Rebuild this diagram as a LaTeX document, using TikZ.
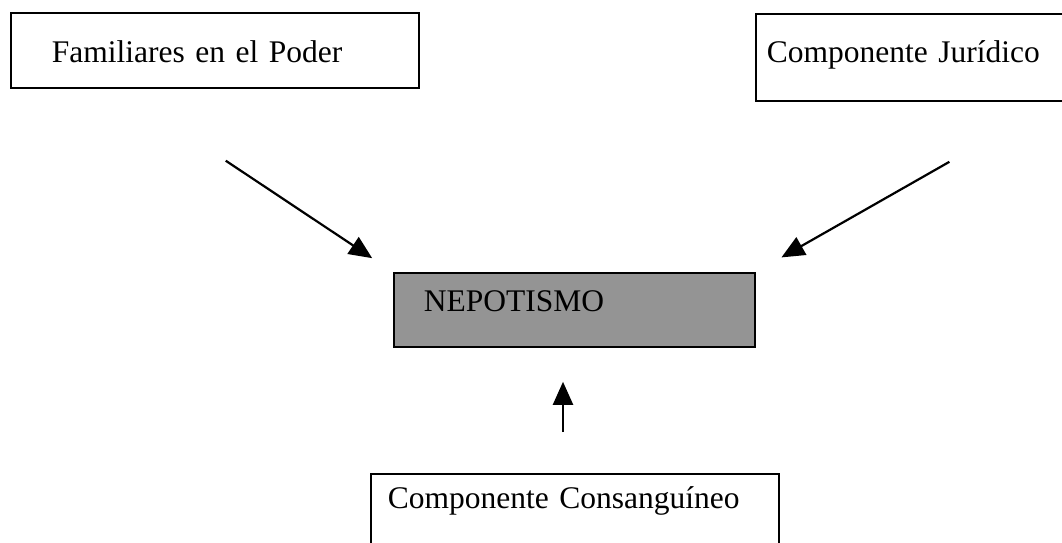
\documentclass[tikz,border=0pt]{standalone}
\usepackage{fontspec}
\setmainfont{Liberation Serif}
\usetikzlibrary{arrows.meta, positioning}
\tikzstyle{box}=[draw,line width=1.8pt,rectangle,anchor=north west,align=left,inner ysep=0pt]
\tikzstyle{every node}=[font=\fontsize{31.5}{36}\selectfont]
\definecolor{dither}{gray}{0.58}

\begin{document}
\begin{tikzpicture}[x=1pt, y=-1pt, >={Triangle[length=23pt,width=20pt]}, line width=2.2pt]
  \useasboundingbox (0,0) rectangle (1062,543);
  \node[box, inner xsep=41pt, text width=326pt, text height=50pt, text depth=25pt] (familiares) at (10,12) {Familiares en el Poder};
  \node[box, inner xsep=11pt, text width=289pt, text height=49pt, text depth=38pt] (juridico) at (755,13) {Componente Jur\'idico};
  \node[box, fill=dither, inner xsep=30pt, text width=301pt, text height=39pt, text depth=35pt] (nepotismo) at (393,272) {NEPOTISMO};
  \node[box, inner xsep=17pt, text width=374pt, text height=35pt, text depth=45pt] (consanguineo) at (370,473) {Componente Consangu\'ineo};
  % arrow tails sit on the box edges, heads point at the corners
  \coordinate (t1) at (115,87);
  \coordinate (t2) at (1058,100);
  \coordinate (t3) at (563,473);
  \draw[->, shorten <=133pt, shorten >=25pt] (t1) -- (nepotismo.north west);
  \draw[->, shorten <=125pt, shorten >=29.5pt] (t2) -- (nepotismo.north east);
  \draw[->, shorten <=41pt, shorten >=34pt] (t3) -- (t3 |- nepotismo.south);
\end{tikzpicture}
\end{document}
